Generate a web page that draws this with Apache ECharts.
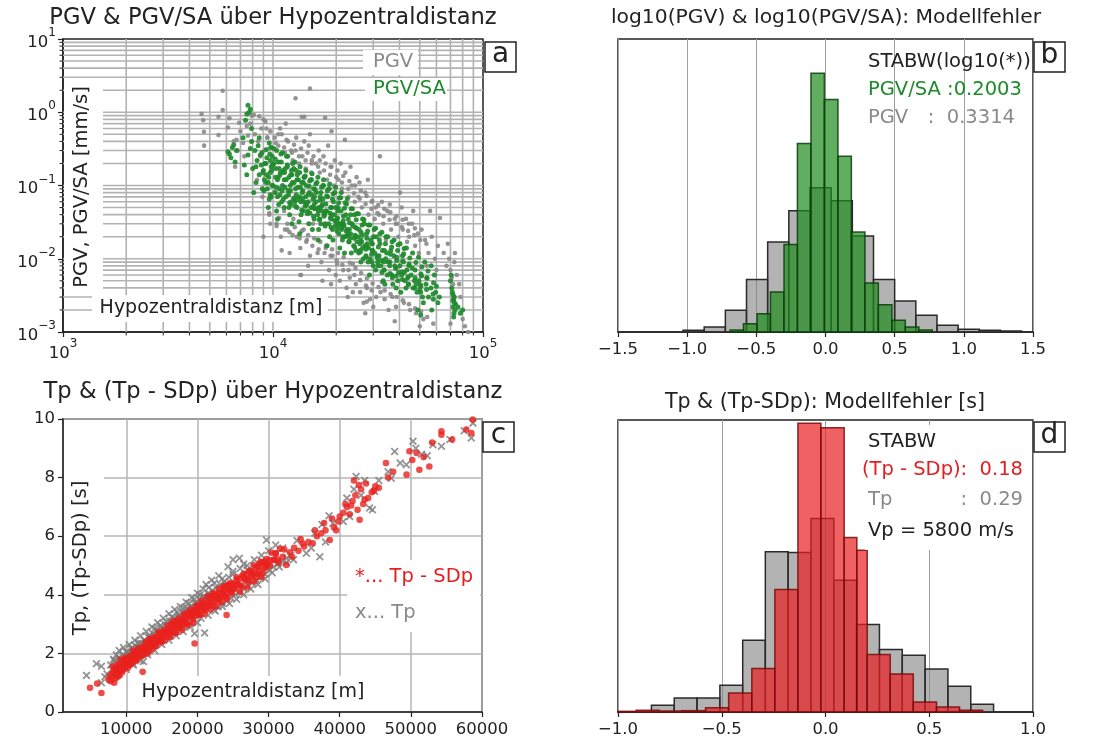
<!DOCTYPE html>
<html><head><meta charset="utf-8">
<script src="https://cdn.jsdelivr.net/npm/echarts/dist/echarts.min.js"></script>
<style>html,body{margin:0;padding:0;background:#fff}#c{width:1104px;height:745px}</style>
</head><body><div id="c"></div>
<script>
// ---------- Panel a: PGV and PGV/SA over hypocentral distance ----------
const pgvPoints = [
[4570,0.95],[4650,0.78],[4690,0.54],[4700,0.35],[5760,1.97],[5760,1.07],[5500,0.87],[5500,0.49],[6200,0.83],[6100,0.62],[6900,0.72],[6700,0.42],[8100,0.92],[8600,0.88],[9000,0.8],[12800,1.55],[15000,2.1],[13700,0.87],[14100,0.87],[17700,0.84],[22000,0.42],[32300,0.25],[15000,0.5],[19000,0.55],[11000,0.013],[13500,0.006],[9000,0.02],[12000,0.023],
[6500,0.4],[6800,0.3],[7000,0.55],[7300,0.25],[7600,0.48],[7800,0.7],[7200,0.38],[6600,0.18],[7900,0.9],[7500,0.65],
[8200,0.5],[8500,0.4],[8800,0.6],[9100,0.3],[9400,0.45],[9700,0.55],[8400,0.12],[8900,0.07],[9300,0.2],[9600,0.04],[9900,0.33],[8700,0.25],[9200,0.75],
[10200,0.45],[10600,0.35],[11000,0.5],[11400,0.28],[11800,0.4],[12200,0.3],[10400,0.03],[10900,0.02],[11300,0.045],[11700,0.025],[12100,0.06],[12500,0.035],[10800,0.6],[11500,0.7],[12400,0.22],[10300,0.08],[11200,0.15],[12000,0.012],
[12800,0.3],[13300,0.2],[13800,0.25],[14300,0.17],[14800,0.35],[15300,0.22],[13000,0.02],[13500,0.014],[14000,0.025],[14500,0.018],[15000,0.011],[15500,0.03],[12900,0.45],[14100,0.4],[15200,0.15],[13600,0.006],[14700,0.008],
[16000,0.2],[16700,0.15],[17400,0.25],[18100,0.12],[18800,0.18],[19500,0.1],[16300,0.012],[17000,0.009],[17800,0.014],[18500,0.007],[19200,0.011],[19900,0.006],[16500,0.3],[18300,0.35],[19700,0.22],[17200,0.005],[18900,0.0045],
[20500,0.12],[21300,0.09],[22100,0.15],[22900,0.07],[23700,0.1],[24500,0.06],[20800,0.005],[21600,0.007],[22400,0.004],[23200,0.0055],[24000,0.0035],[24800,0.0045],[21000,0.2],[23400,0.18],[20200,0.0085],[22700,0.003],[25000,0.13],
[25500,0.07],[26500,0.05],[27500,0.08],[28500,0.04],[29500,0.06],[30500,0.035],[26000,0.0035],[27000,0.0025],[28000,0.004],[29000,0.0028],[30000,0.0022],[31000,0.003],[25800,0.11],[28300,0.12],[30800,0.05],[27500,0.0018],
[32000,0.04],[33500,0.03],[35000,0.045],[36500,0.025],[38000,0.035],[39500,0.02],[32500,0.0035],[34000,0.0028],[35500,0.002],[37000,0.003],[38500,0.0022],[33000,0.06],[36000,0.055],[39000,0.03],[34500,0.018],
[40300,0.08],[41500,0.025],[43000,0.035],[44500,0.02],[46000,0.03],[47500,0.015],[49000,0.022],[42000,0.0025],[45000,0.002],[48000,0.0018],[41000,0.05],[46500,0.045],[49500,0.012],[43500,0.017],
[51000,0.025],[53000,0.018],[55000,0.012],[57000,0.02],[59000,0.01],[61000,0.015],[62400,0.036],[56000,0.045],[52000,0.0015],[58000,0.0013],[54000,0.008],[60000,0.007],
[65000,0.012],[67000,0.008],[69000,0.01],[70000,0.007],[71000,0.0055],[72000,0.0045],[68000,0.016],[73000,0.009],[70000,0.0013],[75000,0.006],[78000,0.003],[80000,0.0015],[82000,0.0012],[85000,0.001],[77000,0.0045],[73500,0.012],
[28000,0.0026],[50000,0.0012],[38000,0.0014],[33000,0.0048],[24000,0.0085],
[9400,0.45],[9600,0.042],[9300,0.6],[9700,0.03],[10300,0.38],[10700,0.036],[10600,0.5],[10400,0.028],[11300,0.33],[11700,0.03],[11600,0.42],[11400,0.025],
[12300,0.28],[12700,0.027],[12600,0.36],[12400,0.021],[13300,0.25],[13700,0.024],[13600,0.32],[13400,0.019],[14300,0.22],[14700,0.021],[14600,0.28],[14400,0.017],
[15300,0.2],[15700,0.019],[15600,0.25],[15400,0.015],[16400,0.18],[16800,0.017],[16700,0.22],[16500,0.0135],[17500,0.16],[17900,0.015],[17800,0.2],[17600,0.012],
[18700,0.14],[19100,0.0135],[19000,0.18],[18800,0.011],[20000,0.13],[20400,0.012],[20300,0.16],[20100,0.0095],[21300,0.11],[21700,0.0105],[21600,0.135],[21400,0.0083],
[22800,0.09],[23200,0.0088],[23100,0.115],[22900,0.007],[24300,0.078],[24700,0.0075],[24600,0.1],[24400,0.006],[25900,0.066],[26300,0.0064],[26200,0.085],[26000,0.0051],
[27600,0.056],[28000,0.0054],[27900,0.072],[27700,0.0043],[29400,0.048],[29800,0.0046],[29700,0.062],[29500,0.0037],[31400,0.042],[31800,0.0041],[31700,0.054],
[33600,0.038],[34000,0.0037],[33900,0.048],[35900,0.034],[36300,0.0033],[36200,0.043],[38400,0.03],[38800,0.003],[38700,0.038],[41100,0.027],[41500,0.0027],[41400,0.034],
[44000,0.024],[44400,0.0024],[44300,0.03],[47100,0.021],[47500,0.0021],[47400,0.026],[50300,0.018],[50700,0.0019],[53800,0.016],[54200,0.0016]
];
const pgvSaPoints = [
[6100,0.29],[6300,0.24],[6400,0.33],[6200,0.27],[6600,0.21],[6500,0.36],[6700,0.3],
[7600,1.25],[7800,1.1],[7500,0.95],[7700,1.0],[7400,0.78],[7900,0.6],[7200,0.45],[7300,0.19],[7600,0.26],[7800,0.32],[8000,0.17],[7500,0.14],[7900,0.4],
[8200,0.3],[8400,0.22],[8600,0.14],[8300,0.11],[8800,0.19],[8500,0.35],[8900,0.09],[8700,0.26],[8100,0.08],[9000,0.16],[8600,0.45],[8300,0.18],
[9200,0.2],[9500,0.11],[9300,0.31],[9700,0.15],[9800,0.07],[9400,0.09],[9900,0.25],[9600,0.38],[9100,0.12],[9800,0.18],[9500,0.05],[9900,0.1],[9300,0.14],[9700,0.22],[9600,0.065],
[10100,0.32],[10300,0.17],[10500,0.12],[10200,0.08],[10800,0.14],[11000,0.06],[10600,0.21],[10400,0.045],[10900,0.27],[11100,0.1],[10700,0.09],[10300,0.13],[10100,0.2],[11200,0.16],[10500,0.035],[10800,0.075],
[11300,0.12],[11500,0.07],[11700,0.18],[11900,0.05],[12100,0.1],[12300,0.14],[12500,0.065],[11600,0.25],[11800,0.085],[12000,0.04],[12400,0.2],[11400,0.095],[12200,0.055],[12600,0.11],[11900,0.13],[12300,0.03],
[12800,0.09],[13000,0.05],[13200,0.12],[13400,0.07],[13600,0.04],[13800,0.08],[14000,0.06],[12900,0.16],[13300,0.032],[13700,0.11],[13100,0.065],[13500,0.095],[13900,0.045],[12700,0.06],[14100,0.13],[13400,0.022],
[14300,0.07],[14600,0.045],[14900,0.08],[15200,0.05],[15500,0.065],[15700,0.035],[14400,0.1],[14800,0.03],[15100,0.12],[15400,0.025],[14500,0.058],[15000,0.042],[15600,0.09],[14200,0.052],[15300,0.075],[15800,0.048],
[16000,0.06],[16300,0.04],[16600,0.05],[16900,0.03],[17200,0.055],[17500,0.038],[16100,0.08],[16500,0.025],[16800,0.07],[17100,0.045],[17400,0.1],[17700,0.028],[16200,0.048],[16700,0.035],[17300,0.065],[16400,0.018],[17000,0.052],[17600,0.042],
[18000,0.045],[18400,0.03],[18800,0.05],[19200,0.025],[19600,0.04],[18200,0.07],[18600,0.02],[19000,0.035],[19400,0.06],[19800,0.028],[18100,0.015],[18700,0.042],[19300,0.018],[19900,0.05],[18500,0.09],[19700,0.033],
[20200,0.035],[20600,0.022],[21000,0.03],[21400,0.018],[21800,0.028],[22200,0.04],[20400,0.05],[20800,0.014],[21200,0.025],[21600,0.033],[22000,0.02],[20300,0.027],[21100,0.045],[21900,0.012],[20700,0.03],[22300,0.024],
[22600,0.025],[23000,0.017],[23400,0.022],[23800,0.03],[24200,0.015],[24600,0.02],[25000,0.026],[22800,0.035],[23600,0.012],[24400,0.04],[23200,0.019],[24800,0.013],[22500,0.021],[24000,0.028],[25100,0.017],
[25400,0.02],[25900,0.013],[26400,0.017],[26900,0.01],[27400,0.015],[27900,0.022],[25700,0.025],[26200,0.009],[26700,0.014],[27200,0.03],[27700,0.011],[28100,0.016],[25600,0.012],[26600,0.021],
[28500,0.014],[29000,0.01],[29500,0.016],[30000,0.008],[30500,0.012],[31000,0.02],[31500,0.009],[28800,0.006],[29800,0.013],[30800,0.007],[29200,0.018],[31200,0.011],[28400,0.009],
[32000,0.011],[32600,0.008],[33200,0.013],[33800,0.007],[34400,0.01],[35000,0.006],[32300,0.016],[33500,0.005],[34800,0.012],[32900,0.0095],[34100,0.0045],[35300,0.009],[33000,0.0065],
[36000,0.009],[36800,0.006],[37600,0.011],[38400,0.0075],[39200,0.005],[36400,0.013],[37200,0.0045],[38000,0.008],[38800,0.0095],[39600,0.0065],[37000,0.0055],[38600,0.004],
[40200,0.008],[41000,0.006],[41800,0.009],[42600,0.005],[43400,0.007],[44200,0.0045],[40600,0.0035],[41400,0.011],[42200,0.0065],[43000,0.004],[43800,0.0055],[44500,0.0085],
[45500,0.006],[46500,0.004],[47500,0.0055],[48500,0.0035],[49500,0.005],[50500,0.0042],[51500,0.003],[46000,0.0075],[48000,0.0045],[50000,0.0038],[51000,0.0058],[52000,0.0025],[49000,0.002],[50500,0.0017],
[53500,0.0045],[55000,0.003],[56500,0.004],[58000,0.0028],[59500,0.0035],[61000,0.0025],[54000,0.0055],[57000,0.002],[60000,0.0042],[62000,0.003],
[70000,0.005],[71000,0.004],[72000,0.0032],[72500,0.0028],[73000,0.0025],[72000,0.0022],[73500,0.002],[72800,0.0018],[71500,0.0035],[73000,0.003],[74000,0.0024],[72500,0.0016],[70500,0.006],[72000,0.0027],
[78000,0.0018],[80000,0.002],[76000,0.0022],
[8850,0.28],[9150,0.2],[8950,0.15],[9250,0.11],[9050,0.085],[9350,0.24],
[9650,0.27],[9950,0.19],[9550,0.13],[10000,0.1],[9700,0.075],[9850,0.16],[9750,0.33],
[10250,0.23],[10700,0.17],[10600,0.13],[10350,0.095],[10500,0.07],[10850,0.15],[10400,0.3],[10650,0.055],
[10950,0.21],[11350,0.15],[11550,0.12],[11050,0.085],[11200,0.065],[11450,0.17],[11100,0.28],[11300,0.05],
[11700,0.19],[12150,0.14],[12350,0.11],[11850,0.075],[12000,0.058],[12250,0.16],[12100,0.085],[11750,0.25],
[12550,0.17],[13000,0.12],[13150,0.095],[12650,0.068],[12800,0.052],[13050,0.14],[12900,0.075],[12700,0.21],
[13400,0.15],[13950,0.11],[13850,0.085],[13550,0.06],[13700,0.046],[14050,0.13],[13800,0.066],[13450,0.18],
[14250,0.135],[14850,0.098],[14750,0.076],[14450,0.054],[14600,0.041],[14950,0.115],[14700,0.06],[14350,0.16],
[15250,0.12],[15850,0.088],[15750,0.07],[15450,0.05],[15600,0.038],[16000,0.105],[15700,0.055],[15350,0.145],
[16200,0.11],[16900,0.08],[16750,0.063],[16450,0.045],[16600,0.034],[17050,0.095],[16700,0.05],[16350,0.13],
[17300,0.1],[18000,0.072],[17850,0.056],[17550,0.04],[17700,0.03],[18150,0.085],[17800,0.045],[17400,0.12],
[18450,0.09],[19200,0.065],[19050,0.05],[18750,0.036],[18900,0.027],[19350,0.077],[19000,0.04],[18600,0.105],
[19700,0.08],[20550,0.058],[20350,0.045],[20050,0.032],[20200,0.024],[20700,0.068],[20300,0.036],[19850,0.095],
[21000,0.068],[21900,0.049],[21650,0.038],[21350,0.027],[21500,0.02],[22050,0.058],[21600,0.03],[21150,0.08],
[22400,0.056],[23400,0.04],[23150,0.031],[22850,0.022],[23000,0.017],[23550,0.048],[23100,0.025],[22600,0.066],
[23900,0.048],[24900,0.034],[24650,0.027],[24350,0.019],[24500,0.0145],[25050,0.041],[24600,0.021],
[25500,0.041],[26550,0.029],[26250,0.023],[25950,0.016],[26100,0.0125],[26700,0.035],[26200,0.018],
[27100,0.034],[28250,0.024],[27950,0.019],[27650,0.0135],[27800,0.0105],[28450,0.029],[27900,0.015],
[28900,0.029],[30100,0.02],[29750,0.016],[29450,0.0115],[29600,0.009],[30300,0.025],[29700,0.013],
[30800,0.026],[32100,0.018],[31750,0.0145],[31450,0.0102],[31600,0.008],[32300,0.022],
[33000,0.023],[34300,0.016],[33950,0.013],[33650,0.009],[33800,0.007],[34500,0.02],
[35200,0.02],[36700,0.0145],[36250,0.0115],[35950,0.008],[36100,0.0063],[36900,0.017],
[37700,0.018],[39200,0.013],[38750,0.0105],[38450,0.0074],[38600,0.0058],[39400,0.0155],
[40300,0.016],[41900,0.0117],[41450,0.0093],[41150,0.0066],[41300,0.0052],[42100,0.0138],
[43200,0.014],[44800,0.0102],[44350,0.0081],[44050,0.0057],[44200,0.0045],
[46200,0.012],[47900,0.0089],[47450,0.007],[47150,0.005],[47300,0.004],
[49300,0.0105],[51200,0.0078],[50650,0.0062],[50350,0.0044],[50500,0.0035],
[52800,0.009],[54700,0.0068],[54150,0.0054],[53850,0.0038],
[56700,0.008],[58700,0.006],[58150,0.0047],[57850,0.0033]
];

// ---------- Panel b: histograms of log10 model error ----------
const bPgvEdges = [-1.03,-0.877,-0.724,-0.571,-0.418,-0.265,-0.112,0.041,0.194,0.347,0.5,0.653,0.806,0.959,1.112,1.265,1.418];
const bPgvCounts = [5,15,65,157,270,363,432,393,288,157,93,50,20,8,5,3];
const bSaEdges = [-0.690,-0.593,-0.495,-0.398,-0.300,-0.203,-0.105,-0.008,0.090,0.187,0.285,0.382,0.480,0.577,0.675,0.772];
const bSaCounts = [6,25,55,120,262,565,775,697,527,300,147,82,35,15,6];

// ---------- Panel c: Tp and (Tp - SDp) over hypocentral distance ----------
const tpSdpPoints = [
[4900,0.83],[6500,0.65],[5900,0.97],[7800,1.05],[8000,1.2],[7500,1.1],[8300,1.0],[8100,1.35],[7700,1.25],
[8500,1.15],[8700,1.3],[8900,1.5],[9100,1.4],[9300,1.6],[9500,1.45],[9700,1.7],[9900,1.55],[8600,1.45],[9000,1.25],[9400,1.35],[9800,1.8],[8800,1.2],[9600,1.62],
[10100,1.7],[10300,1.6],[10500,1.85],[10700,1.75],[10900,1.95],[11100,1.8],[11300,2.0],[11500,1.9],[11700,2.1],[11900,1.95],[10200,1.5],[10600,1.62],[11000,1.7],[11400,1.78],[11800,1.88],[12000,2.15],[12300,1.37],
[12200,2.05],[12500,2.2],[12800,2.1],[13100,2.3],[13400,2.25],[13700,2.4],[14000,2.35],[14300,2.5],[14600,2.45],[14900,2.6],[12400,1.95],[13000,2.0],[13600,2.15],[14200,2.25],[14800,2.4],[12700,2.35],[13300,2.5],[13900,2.55],[14500,2.7],
[15200,2.6],[15600,2.75],[16000,2.7],[16400,2.9],[16800,2.85],[17200,3.0],[17600,2.95],[18000,3.15],[18400,3.1],[18800,3.3],[19200,3.25],[19600,3.4],[15400,2.45],[16200,2.55],[17000,2.7],[17800,2.8],[18600,2.95],[19400,3.05],[15800,2.95],[16600,3.1],[17400,3.2],[18200,3.35],[19000,3.5],[19800,3.6],[19600,2.34],
[20000,3.45],[20400,3.6],[20800,3.5],[21200,3.7],[21600,3.65],[22000,3.85],[22400,3.8],[22800,3.95],[23200,3.9],[23600,4.1],[24000,4.0],[24400,4.2],[20200,3.3],[21000,3.35],[21800,3.5],[22600,3.6],[23400,3.75],[24200,3.85],[20600,3.8],[21400,3.95],[22200,4.05],[23000,4.2],[23800,4.3],[24600,4.4],[24100,3.31],[24800,4.05],
[25200,4.2],[25700,4.35],[26200,4.3],[26700,4.5],[27200,4.45],[27700,4.65],[28200,4.6],[28700,4.8],[29200,4.75],[29700,4.95],[25500,4.5],[26500,4.6],[27500,4.8],[28500,4.95],[29500,5.1],[26000,4.1],[27000,4.25],[28000,4.45],[29000,4.6],
[30200,5.0],[30800,5.2],[31400,5.1],[32000,5.3],[32500,5.02],[33000,5.45],[33600,5.6],[34200,5.5],[34800,5.75],[31000,5.4],[32200,5.55],[33300,5.3],[34500,5.9],[35000,5.65],
[35600,5.8],[36200,5.76],[36800,6.0],[37400,6.1],[38000,6.2],[38600,5.87],[39200,6.3],[39800,6.5],[36500,6.2],[37800,6.45],[38900,6.6],[39500,6.2],[40000,6.67],
[40500,6.8],[41000,7.0],[41400,6.75],[41800,7.2],[42200,7.4],[42500,6.9],[42800,6.56],[43000,7.6],[43300,7.1],[43700,7.8],[44000,7.3],[44500,7.5],[45000,7.7],[42000,7.9],[41600,7.05],[43500,7.25],[44800,7.55],[45500,7.65],[42700,7.75],[40800,7.1],
[46500,8.5],[47500,8.2],[49400,8.1],[49800,8.9],[50200,8.6],[50800,8.84],[51200,8.27],[51800,8.7],[52600,8.38],[53000,9.2],[54300,9.58],[54300,9.46],[55800,9.3],[57800,9.64],[58500,9.52],[58700,9.98],[46800,8.0],
[8100,1.55],[8250,1.37],[8400,1.5],[8550,1.3],[8700,1.6],[8850,1.41],[9000,1.55],[9150,1.78],[9300,1.5],[9450,1.7],[9600,1.46],[9750,1.8],
[9900,1.86],[10050,1.68],[10200,1.81],[10350,1.61],[10500,1.91],[10650,1.72],[10800,1.86],[10950,2.09],[11100,1.81],[11250,2.01],[11400,1.77],[11550,2.11],
[11700,2.17],[11850,1.99],[12000,2.12],[12150,1.92],[12300,2.22],[12450,2.03],[12600,2.17],[12750,2.4],[12900,2.12],[13050,2.32],[13200,2.08],[13350,2.42],
[13500,2.48],[13650,2.3],[13800,2.43],[13950,2.24],[14100,2.53],[14250,2.34],[14400,2.48],[14550,2.71],[14700,2.43],[14850,2.63],[15000,2.39],[15150,2.73],
[15300,2.79],[15450,2.61],[15600,2.74],[15750,2.55],[15900,2.84],[16050,2.65],[16200,2.79],[16350,3.02],[16500,2.74],[16650,2.94],[16800,2.7],[16950,3.04],
[17100,3.1],[17250,2.92],[17400,3.05],[17550,2.86],[17700,3.15],[17850,2.96],[18000,3.1],[18150,3.33],[18300,3.06],[18450,3.25],[18600,3.01],[18750,3.35],
[18900,3.41],[19050,3.23],[19200,3.36],[19350,3.17],[19500,3.46],[19650,3.27],[19800,3.41],[19950,3.64],[20100,3.37],[20250,3.56],[20400,3.32],[20550,3.66],
[20700,3.72],[20850,3.55],[21000,3.67],[21150,3.48],[21300,3.77],[21450,3.58],[21600,3.72],[21750,3.95],[21900,3.68],[22050,3.87],[22200,3.63],[22350,3.97],
[22500,4.03],[22650,3.86],[22800,3.98],[22950,3.79],[23100,4.08],[23250,3.89],[23400,4.03],[23550,4.26],[23700,3.99],[23850,4.18],[24000,3.94],[24150,4.28],
[24300,4.34],[24450,4.17],[24600,4.29],[24750,4.1],[24900,4.39],[25100,4.21],[25300,4.36],[25500,4.6],[25700,4.33],[25900,4.54],[26100,4.3],[26300,4.65],
[26500,4.72],[26700,4.55],[26900,4.69],[27100,4.5],[27300,4.81],[27500,4.62],[27700,4.78],[27900,5.01],[28100,4.74],[28300,4.95],[28500,4.71],[28700,5.07],
[28900,5.13],[29100,4.97],[29300,5.1],[29500,4.92],[29700,5.22],[29900,5.04],[30100,5.19],[30400,5.44],[30700,5.19],[31000,5.42],[31300,5.2],[31600,5.57]
];
const tpPoints = [
[4400,1.25],[5800,1.65],[6500,1.56],[6500,1.0],[7300,1.3],[7800,1.6],[8200,1.8],[8600,1.95],[9000,2.1],[9300,1.75],[9600,2.2],[10000,2.05],[10400,2.3],[10800,2.2],[11200,2.45],[11600,2.35],[12000,2.6],[10900,1.65],[12400,1.72],[12800,2.75],[13200,2.6],[13600,2.9],[14000,2.85],[14400,3.05],[14800,2.95],[15200,3.2],[15600,3.1],[16000,3.35],[16400,3.25],[16800,3.5],[17200,3.4],[17600,3.6],[18000,3.55],[18400,3.75],[18800,3.7],[19200,3.9],[19600,3.85],[20000,4.05],[20400,4.0],[20800,4.2],[21200,4.35],[21600,4.25],[22000,4.5],[22400,4.4],[23000,4.65],[23500,4.55],[24300,4.96],[25000,4.8],[25900,5.25],[26500,5.05],
[13000,2.15],[14000,2.3],[15000,2.45],[16000,2.6],[17000,2.75],[18000,2.9],[19000,3.0],[19600,2.68],[20500,3.2],[21000,2.7],[21500,3.3],[22500,3.45],[23500,3.6],[24500,3.7],[25500,3.85],[26500,4.0],[27500,4.2],[28500,4.35],[29500,4.55],[27000,4.85],[28000,4.95],[29000,5.15],[29700,5.87],[30500,4.75],[31500,4.95],[32500,5.1],[30000,5.5],[31000,5.7],[32000,5.6],[33500,5.2],[35300,5.42],[34000,5.85],[36000,5.6],[37200,5.3],[36500,6.1],[38000,5.8],[39050,6.44],[38500,6.7],[37500,6.4],[40500,6.5],[41400,6.67],[42300,8.04],[44200,6.96],[44600,6.9],[44900,7.53],[43500,7.9],[42000,7.6],[41000,7.3],[43000,7.4],[45500,7.9],[46800,8.2],[47250,7.98],[47720,8.89],[48500,8.5],[49360,8.44],[50300,9.24],[50700,9.0],[51500,8.8],[52300,8.75],[53100,9.12],[54300,9.07],[55500,9.3],[58500,9.35],[58730,9.86],[57500,9.6],[25000,5.2],[24000,4.3],[23000,4.0],[11000,1.95],[9500,1.5],[8000,1.45],[7000,1.2],
[8300,1.75],[8900,1.85],[9500,1.95],[10100,2.05],[10700,2.15],[11300,2.25],[11900,2.35],[12500,2.45],[13100,2.55],[13700,2.68],[14300,2.78],[14900,2.88],[15500,2.98],[16100,3.1],[16700,3.2],[17300,3.3],[17900,3.42],[18500,3.52],[19100,3.62],[19700,3.73],[20300,3.85],[20900,3.95],[21500,4.05],[22100,4.15],
[8600,1.68],[9200,1.8],[9800,1.9],[10400,2.0],[11000,2.12],[11600,2.22],[12200,2.32],[12800,2.4],[13400,2.52],[14000,2.62],[14600,2.74],[15200,2.82],[15800,2.95],[16400,3.05],[17000,3.15],[17600,3.26],[18200,3.36],[18800,3.47],[19400,3.56],[20000,3.68],[20600,3.78],[21200,3.9],[21800,4.0],
[22300,3.5],[22900,3.6],[23500,3.7],[24100,3.8],[24700,3.9],[25300,4.0],[25900,4.1],[26500,4.2],[27100,4.3],[27700,4.4],[28300,4.5],[28900,4.6],[29500,4.7],[30100,4.85],[30700,4.95],[31300,5.05],[31900,5.15],[32500,5.25],[33100,5.35],
[22600,4.25],[23200,4.35],[23800,4.45],[24400,4.6],[25000,4.7],[26000,4.9],[27000,5.0],[28000,5.2],[29000,5.35],
[9000,1.3],[10000,1.45],[11000,1.6],[12000,1.75],[13000,1.95],[14000,2.1],[15000,2.3],[16000,2.45],[17000,2.6],[18000,2.75],[19000,2.9],[20000,3.05]
];

// ---------- Panel d: histograms of travel-time model error ----------
const dTpEdges = [-0.839,-0.729,-0.619,-0.509,-0.399,-0.290,-0.180,-0.070,0.040,0.150,0.260,0.370,0.480,0.590,0.700,0.810];
const dTpCounts = [20,42,42,80,215,480,478,580,395,262,187,170,129,77,23];
const dSdpEdges = [-1.0,-0.912,-0.801,-0.690,-0.578,-0.467,-0.355,-0.244,-0.133,-0.022,0.090,0.151,0.201,0.312,0.423,0.535,0.646,0.757];
const dSdpCounts = [2,5,3,4,13,57,130,367,865,852,523,485,172,114,30,15,5];

// ---------- helpers ----------
const FONT = '"DejaVu Sans", sans-serif';
const minus = s => String(s).replace('-', '\u2212');
function rects(edges, counts) { return counts.map((c, i) => [edges[i], edges[i + 1], c]); }
function histSeries(ai, data, fill, stroke, z) {
  return {
    type: 'custom', xAxisIndex: ai, yAxisIndex: ai, z: z, silent: true, data: data,
    encode: { x: [0, 1], y: 2 },
    renderItem: function (p, api) {
      const a = api.coord([api.value(0), api.value(2)]);
      const b = api.coord([api.value(1), 0]);
      return { type: 'rect', shape: { x: a[0], y: a[1], width: b[0] - a[0], height: b[1] - a[1] },
        style: { fill: fill, stroke: stroke, lineWidth: 1.5 } };
    }
  };
}
const xMinorVals = [], yMinorVals = [];
[1e3, 1e4].forEach(d => { for (let k = 2; k <= 10; k++) { if (d * k < 1e5) xMinorVals.push(d * k); } });
[1e-3, 1e-2, 1e-1, 1e0].forEach(d => { for (let k = 2; k <= 10; k++) { if (d * k < 10 - 1e-9) yMinorVals.push(d * k); } });
function isDecade(v) { const e = Math.log10(v); return Math.abs(e - Math.round(e)) < 1e-6; }

const logLabel = {
  fontFamily: FONT, fontSize: 16.5, color: '#222',
  formatter: function (v) { const e = Math.round(Math.log10(v)); return '{b|10}{s|' + minus(e) + '}'; },
  rich: {
    b: { fontFamily: FONT, fontSize: 16.5, color: '#222', verticalAlign: 'bottom', lineHeight: 24 },
    s: { fontFamily: FONT, fontSize: 12, color: '#222', verticalAlign: 'top', lineHeight: 24 }
  }
};
const axLine = { show: true, lineStyle: { color: '#222', width: 1.5 } };
const axTick = { show: true, inside: false, length: 5, lineStyle: { color: '#222', width: 1.2 } };
const numLabel = { fontFamily: FONT, fontSize: 16.5, color: '#222', margin: 9 };

const grids = [
  { left: 63, top: 39, width: 420, height: 293 },
  { left: 618, top: 39, width: 415, height: 293 },
  { left: 63, top: 419, width: 419, height: 293 },
  { left: 618, top: 420, width: 415, height: 292 }
].map(g => Object.assign({ show: true, borderColor: '#222', borderWidth: 1.5, backgroundColor: 'transparent' }, g));

const xAxes = [
  { gridIndex: 0, type: 'log', logBase: 10, min: 1e3, max: 1e5, axisLine: axLine, axisTick: axTick, splitLine: { show: false },
    axisLabel: Object.assign({ margin: 6 }, logLabel) },
  { gridIndex: 1, type: 'value', min: -1.5, max: 1.5, interval: 0.5, axisLine: axLine, axisTick: axTick,
    splitLine: { show: true, lineStyle: { color: '#a0a0a0', width: 1 } },
    axisLabel: Object.assign({}, numLabel, { formatter: v => minus(v.toFixed(1)) }) },
  { gridIndex: 2, type: 'value', min: 1100, max: 60000, splitNumber: 5, axisLine: axLine, axisTick: axTick,
    splitLine: { show: true, lineStyle: { color: '#b4b4b4', width: 1.5 } },
    axisLabel: Object.assign({}, numLabel, { showMinLabel: false, formatter: v => String(Math.round(v)) }) },
  { gridIndex: 3, type: 'value', min: -1, max: 1, interval: 0.5, axisLine: axLine, axisTick: axTick,
    splitLine: { show: true, lineStyle: { color: '#a0a0a0', width: 1 } },
    axisLabel: Object.assign({}, numLabel, { formatter: v => minus(v.toFixed(1)) }) }
];
const yAxes = [
  { gridIndex: 0, type: 'log', logBase: 10, min: 1e-3, max: 10, axisLine: axLine, axisTick: axTick, splitLine: { show: false },
    axisLabel: Object.assign({ margin: 7 }, logLabel) },
  { gridIndex: 1, type: 'value', min: 0, max: 878, show: false },
  { gridIndex: 2, type: 'value', min: 0, max: 10, interval: 2, axisLine: axLine, axisTick: axTick,
    splitLine: { show: true, lineStyle: { color: '#b4b4b4', width: 1.5 } },
    axisLabel: Object.assign({}, numLabel, { margin: 8, formatter: v => String(v) }) },
  { gridIndex: 3, type: 'value', min: 0, max: 875, show: false }
];

const xSym = 'path://M0,1.6L1.6,0L5,3.4L8.4,0L10,1.6L6.6,5L10,8.4L8.4,10L5,6.6L1.6,10L0,8.4L3.4,5Z';

const series = [
  { type: 'custom', xAxisIndex: 0, yAxisIndex: 0, z: 1, silent: true,
    data: xMinorVals.map(v => [v, 1]),
    renderItem: function (p, api) {
      const v = api.value(0), t = api.coord([v, 10]), b = api.coord([v, 1e-3]);
      const ch = [{ type: 'line', shape: { x1: t[0], y1: t[1], x2: b[0], y2: b[1] }, style: { stroke: '#b2b2b2', lineWidth: 1.6 } }];
      if (!isDecade(v)) ch.push({ type: 'line', shape: { x1: b[0], y1: b[1], x2: b[0], y2: b[1] + 3.5 }, style: { stroke: '#222', lineWidth: 1 } });
      return { type: 'group', children: ch };
    } },
  { type: 'custom', xAxisIndex: 0, yAxisIndex: 0, z: 1, silent: true,
    data: yMinorVals.map(v => [1e3, v]),
    renderItem: function (p, api) {
      const v = api.value(1), l = api.coord([1e3, v]), r = api.coord([1e5, v]);
      const ch = [{ type: 'line', shape: { x1: l[0], y1: l[1], x2: r[0], y2: r[1] }, style: { stroke: '#b2b2b2', lineWidth: 1.6 } }];
      if (!isDecade(v)) ch.push({ type: 'line', shape: { x1: l[0] - 3.5, y1: l[1], x2: l[0], y2: l[1] }, style: { stroke: '#222', lineWidth: 1 } });
      return { type: 'group', children: ch };
    } },
  { type: 'scatter', xAxisIndex: 0, yAxisIndex: 0, z: 2, silent: true, data: pgvPoints, symbol: 'circle', symbolSize: 4.6,
    itemStyle: { color: '#8a8a8a', opacity: 0.9 } },
  { type: 'scatter', xAxisIndex: 0, yAxisIndex: 0, z: 3, silent: true, data: pgvSaPoints, symbol: 'circle', symbolSize: 5,
    itemStyle: { color: '#1f8a2c', opacity: 0.92 } },
  histSeries(1, rects(bPgvEdges, bPgvCounts), 'rgba(128,128,128,0.6)', '#2a2a2a', 2),
  histSeries(1, rects(bSaEdges, bSaCounts), 'rgba(30,140,30,0.7)', 'rgba(10,60,10,0.85)', 3),
  { type: 'scatter', xAxisIndex: 2, yAxisIndex: 2, z: 2, silent: true, data: tpPoints, symbol: xSym, symbolSize: 8,
    itemStyle: { color: '#7a7a7a' } },
  { type: 'scatter', xAxisIndex: 2, yAxisIndex: 2, z: 3, silent: true, data: tpSdpPoints, symbol: 'circle', symbolSize: 6.6,
    itemStyle: { color: '#e8221e' } },
  histSeries(3, rects(dTpEdges, dTpCounts), 'rgba(128,128,128,0.6)', '#2a2a2a', 2),
  histSeries(3, rects(dSdpEdges, dSdpCounts), 'rgba(232,30,32,0.7)', 'rgba(120,10,10,0.85)', 3)
];

function txt(x, y, text, opt) {
  opt = opt || {};
  return { type: 'text', x: x, y: y, z: 100, rotation: opt.rot || 0, silent: true,
    style: { text: text, fill: opt.color || '#222', font: (opt.size || 19.5) + 'px ' + FONT,
      textAlign: opt.align || 'left', align: opt.align || 'left', textVerticalAlign: 'middle', verticalAlign: 'middle' } };
}
function box(x, y, w, h) {
  return { type: 'rect', z: 99, silent: true, shape: { x: x, y: y, width: w, height: h }, style: { fill: '#fff', stroke: null } };
}
function tag(x, y, letter, ty) {
  return [
    { type: 'rect', z: 99, silent: true, shape: { x: x, y: y, width: 31, height: 30 }, style: { fill: '#fff', stroke: '#222', lineWidth: 1.5 } },
    txt(x + 15.5, y + ty, letter, { size: 28, align: 'center' })
  ];
}
const GRAY = '#8a8a8a', GREEN = '#1f8a2c', RED = '#e41e1e';
const graphics = [
  txt(273, 18, 'PGV & PGV/SA über Hypozentraldistanz', { size: 22.6, align: 'center' }),
  txt(826, 18, 'log10(PGV) & log10(PGV/SA): Modellfehler', { size: 20.3, align: 'center' }),
  txt(273, 392, 'Tp & (Tp - SDp) über Hypozentraldistanz', { size: 22.6, align: 'center' }),
  txt(825, 403, 'Tp & (Tp-SDp): Modellfehler [s]', { size: 20.6, align: 'center' }),
  box(64, 80, 39, 212), txt(82, 187, 'PGV, PGV/SA [mm/s]', { align: 'center', rot: Math.PI / 2 }),
  box(92, 295, 236, 27), txt(211, 308, 'Hypozentraldistanz [m]', { align: 'center', size: 19 }),
  box(363, 50, 55, 25), txt(373, 62, 'PGV', { color: GRAY }),
  box(365, 78, 82, 23), txt(373, 89, 'PGV/SA', { color: GREEN }),
  txt(868, 62, 'STABW(log10(*))'),
  txt(868, 90, 'PGV/SA :0.2003', { color: GREEN }),
  txt(868, 118, 'PGV', { color: GRAY }),
  txt(1015, 118, ':  0.3314', { color: GRAY, align: 'right' }),
  box(64, 470, 40, 170), txt(81, 558, 'Tp, (Tp-SDp) [s]', { align: 'center', rot: Math.PI / 2 }),
  box(140, 676, 226, 35), txt(253, 692, 'Hypozentraldistanz [m]', { align: 'center', size: 19 }),
  box(347, 560, 133, 72), txt(355, 577, '*... Tp - SDp', { color: RED }), txt(355, 613, 'x... Tp', { color: GRAY }),
  box(865, 425, 160, 125),
  txt(868, 442, 'STABW'),
  txt(1023, 470, '(Tp - SDp):  0.18', { color: RED, align: 'right' }),
  txt(868, 500, 'Tp', { color: GRAY }),
  txt(1023, 500, ':  0.29', { color: GRAY, align: 'right' }),
  txt(868, 531, 'Vp = 5800 m/s')
].concat(tag(485, 42, 'a', 13), tag(1034, 42, 'b', 14), tag(483, 422, 'c', 14), tag(1034, 422, 'd', 14));

const chart = echarts.init(document.getElementById('c'), null, { renderer: 'canvas' });
chart.setOption({
  animation: false,
  backgroundColor: '#fff',
  textStyle: { fontFamily: FONT },
  grid: grids, xAxis: xAxes, yAxis: yAxes, series: series, graphic: { elements: graphics }
});
</script></body></html>
